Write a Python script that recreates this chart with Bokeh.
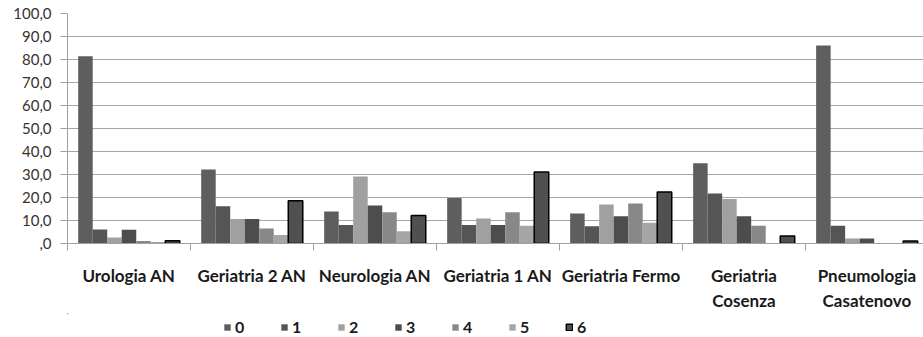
from bokeh.plotting import figure
from bokeh.models import ColumnDataSource, FixedTicker, Range1d, Legend, LegendItem
from bokeh.layouts import column
from bokeh.embed import file_html
from bokeh.resources import INLINE
import numpy as np

categories = ["Urologia AN", "Geriatria 2 AN", "Neurologia AN", "Geriatria 1 AN",
              "Geriatria Fermo", "Geriatria\nCosenza", "Pneumologia\nCasatenovo"]
series_names = ["0", "1", "2", "3", "4", "5", "6"]
s0 = [81.4, 32.2, 13.9, 19.8, 13.0, 34.9, 86.1]
s1 = [6.1, 16.2, 8.0, 8.0, 7.5, 21.7, 7.7]
s2 = [2.6, 10.7, 29.1, 10.9, 17.0, 19.3, 2.2]
s3 = [6.0, 10.7, 16.5, 8.0, 11.9, 11.9, 2.2]
s4 = [1.1, 6.5, 13.6, 13.6, 17.4, 7.7, 0.0]
s5 = [0.6, 3.7, 5.3, 7.7, 9.0, 0.0, 0.0]
s6 = [1.2, 18.6, 12.2, 31.1, 22.4, 3.3, 1.1]
series = [s0, s1, s2, s3, s4, s5, s6]
y_ticks = [0, 10, 20, 30, 40, 50, 60, 70, 80, 90, 100]

fills = ["#5e5e5e", "#555555", "#a0a0a0", "#4d4d4d", "#888888", "#a6a6a6", "#505050"]
lines = [None, None, None, None, None, None, "#000000"]

FONT = "Lato"

p = figure(width=923, height=313, output_backend="svg", toolbar_location=None,
           x_range=Range1d(0, 6.96), y_range=Range1d(0, 100),
           min_border_left=67, min_border_right=0, min_border_top=13,
           min_border_bottom=70)
p.outline_line_color = None
p.background_fill_color = "white"

n = len(categories)
w = 0.118
centers = np.arange(n) + 0.5
for i, vals in enumerate(series):
    src = ColumnDataSource(dict(x=centers + (i - 3) * w, top=vals))
    p.vbar(x="x", top="top", width=w, source=src, fill_color=fills[i],
           line_color=lines[i], line_width=1.5 if lines[i] else 0)

# y axis
p.yaxis.ticker = FixedTicker(ticks=y_ticks)
p.yaxis.major_label_overrides = {t: ("," + "0" if t == 0 else f"{t},0") for t in y_ticks}
p.yaxis.axis_line_color = "#a0a0a0"
p.yaxis.major_tick_line_color = "#a0a0a0"
p.yaxis.major_tick_out = 7
p.yaxis.major_tick_in = 0
p.yaxis.minor_tick_line_color = None
p.yaxis.major_label_text_font = FONT
p.yaxis.major_label_text_font_size = "15px"
p.yaxis.major_label_text_color = "#333333"
p.yaxis.major_label_standoff = 9

# x axis
p.xaxis.ticker = FixedTicker(ticks=list(centers), minor_ticks=list(range(n + 1)))
p.xaxis.major_label_overrides = {float(c): lab for c, lab in zip(centers, categories)}
p.xaxis.axis_line_color = "#a0a0a0"
p.xaxis.major_tick_line_color = None
p.xaxis.minor_tick_line_color = "#a0a0a0"
p.xaxis.minor_tick_in = 0
p.xaxis.minor_tick_out = 7
p.xaxis.major_label_text_font = FONT
p.xaxis.major_label_text_font_style = "bold"
p.xaxis.major_label_text_font_size = "17px"
p.xaxis.major_label_text_color = "#1a1a1a"
p.xaxis.major_label_standoff = 14

p.xgrid.grid_line_color = None
p.ygrid.grid_line_color = "#a6a6a6"
p.ygrid.grid_line_width = 1

# legend strip (its frame is aligned with the main frame by the column layout)
pl = figure(width=923, height=24, output_backend="svg", toolbar_location=None,
            x_axis_type=None, y_axis_type=None, x_range=Range1d(0, 1), y_range=Range1d(0, 1),
            min_border_left=0, min_border_right=0, min_border_top=0, min_border_bottom=0)
pl.outline_line_color = None
pl.xgrid.grid_line_color = None
pl.ygrid.grid_line_color = None
items = []
for i, name in enumerate(series_names):
    # key swatch only: a zero-size bar outside the strip's range, so nothing shows
    r = pl.vbar(x=[-5.0], bottom=[5.0], top=[5.0], width=0.0, fill_color=fills[i],
                line_color=lines[i], line_width=1.5 if lines[i] else 0)
    items.append(LegendItem(label=name, renderers=[r]))
legend = Legend(items=items, orientation="horizontal", location=(156, 1),
                glyph_width=8, glyph_height=8, label_standoff=4, label_width=20,
                spacing=25, padding=0, margin=0, border_line_color=None,
                background_fill_alpha=0, label_text_font=FONT,
                label_text_font_style="bold", label_text_font_size="16px",
                label_text_color="#1a1a1a", label_height=18)
pl.add_layout(legend, "center")

layout = column(p, pl, spacing=0)
open("out.html", "w").write(file_html(layout, INLINE))
